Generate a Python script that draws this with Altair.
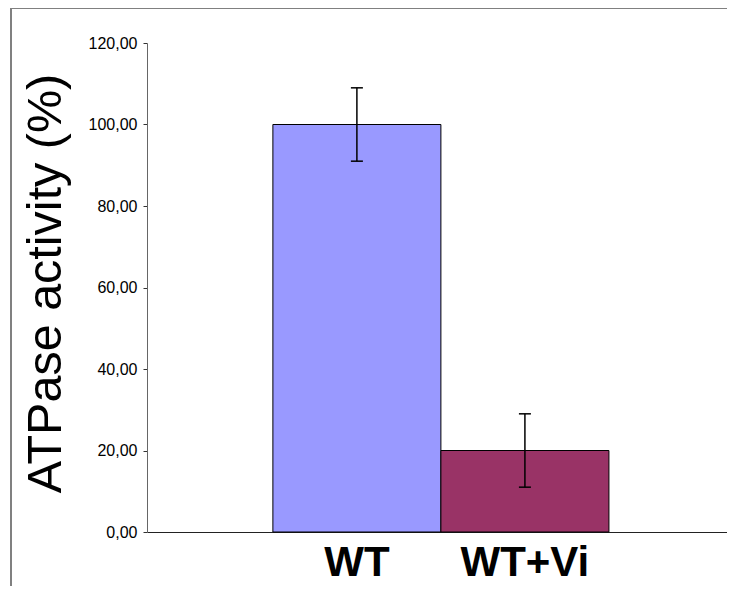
import altair as alt
import pandas as pd

samples = ["WT", "WT+Vi"]
means = [100.0, 20.0]
errors = [9.0, 9.0]
colors = ["#9999FF", "#993366"]
y_ticks = [0, 20, 40, 60, 80, 100, 120]

df = pd.DataFrame({
    "sample": samples,
    "mean": means,
    "lo": [m - e for m, e in zip(means, errors)],
    "hi": [m + e for m, e in zip(means, errors)],
})

FONT = "Liberation Sans"

x_scale = alt.Scale(paddingInner=0, paddingOuter=0.726, align=0.516)

x_enc = alt.X(
    "sample:N",
    sort=samples,
    scale=x_scale,
    axis=alt.Axis(
        title=None,
        labelAngle=0,
        labelFont=FONT,
        labelFontSize=42,
        labelFontWeight="bold",
        labelColor="black",
        labelBaseline="top",
        labelPadding=10,
        ticks=False,
        domainColor="#222222",
        domainWidth=1,
    ),
)

y_scale = alt.Scale(domain=[0, 120], nice=False)

bars = alt.Chart(df).mark_bar(stroke="black", strokeWidth=1).encode(
    x=x_enc,
    y=alt.Y(
        "mean:Q",
        scale=y_scale,
        axis=alt.Axis(
            title="ATPase activity (%)",
            titleFont=FONT,
            titleFontSize=48.5,
            titleFontWeight="normal",
            titleColor="black",
            titleX=-77,
            titleY=240,
            values=y_ticks,
            labelExpr="replace(format(datum.value, '.2f'), '.', ',')",
            labelFont=FONT,
            labelFontSize=16,
            labelColor="black",
            labelPadding=6,
            tickSize=4,
            tickColor="#333333",
            domainColor="#666666",
            grid=False,
        ),
    ),
    color=alt.Color("sample:N", scale=alt.Scale(domain=samples, range=colors), legend=None),
)

rules = alt.Chart(df).mark_rule(color="black", strokeWidth=1.5).encode(
    x=alt.X("sample:N", sort=samples),
    y=alt.Y("lo:Q", scale=y_scale),
    y2="hi:Q",
)

caps_lo = alt.Chart(df).mark_tick(color="black", size=12, thickness=1.5, opacity=1).encode(
    x=alt.X("sample:N", sort=samples),
    y=alt.Y("lo:Q", scale=y_scale),
)
caps_hi = alt.Chart(df).mark_tick(color="black", size=12, thickness=1.5, opacity=1).encode(
    x=alt.X("sample:N", sort=samples),
    y=alt.Y("hi:Q", scale=y_scale),
)

border_left = alt.Chart(df).mark_rule(color="#808080", strokeWidth=2).encode(
    x=alt.value(-136), y=alt.value(-36), y2=alt.value(560)
)
border_top = alt.Chart(df).mark_rule(color="#808080", strokeWidth=2).encode(
    x=alt.value(-136), x2=alt.value(600), y=alt.value(-35)
)

chart = alt.layer(bars, rules, caps_lo, caps_hi, border_left, border_top).properties(
    width=580,
    height=489,
    background="white",
    autosize=alt.AutoSizeParams(type="none"),
    padding={"left": 139, "top": 35, "right": 0, "bottom": 54},
).configure_view(strokeWidth=0)

chart.save("out.html", embed_options={"renderer": "svg", "actions": False})
